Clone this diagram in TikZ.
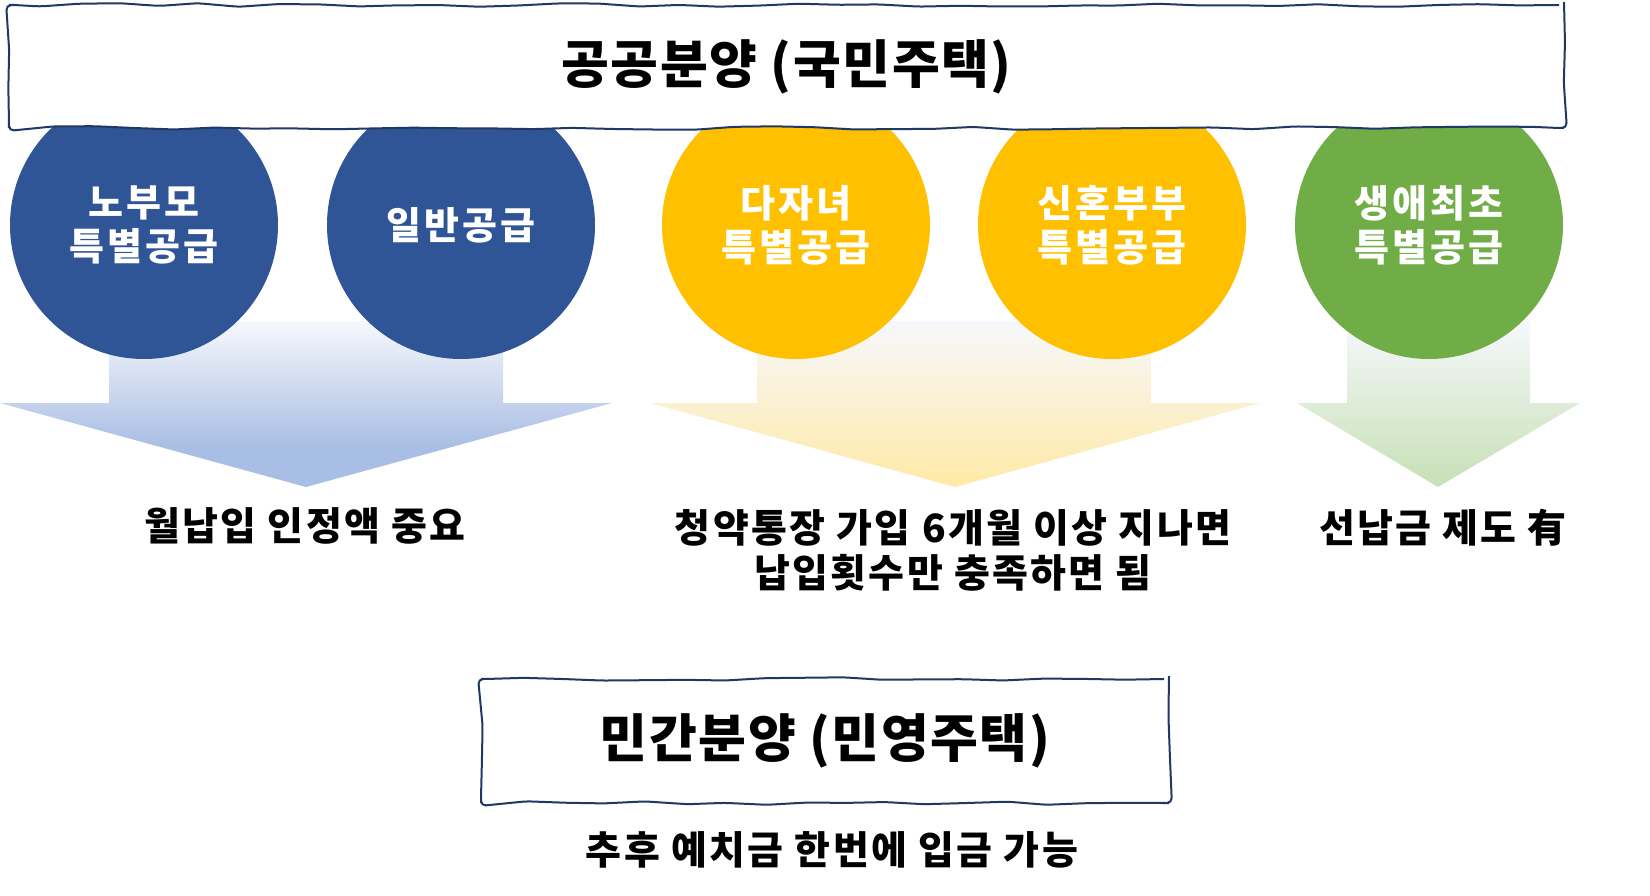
\documentclass[tikz,border=0pt]{standalone}
\usepackage{fontspec}
\setmainfont{Noto Sans CJK KR}
\usetikzlibrary{decorations.pathmorphing}
\definecolor{cblue}{RGB}{47,85,151}
\definecolor{cyellow}{RGB}{255,192,0}
\definecolor{cgreen}{RGB}{112,173,71}
\definecolor{navy}{RGB}{31,56,100}
\definecolor{gtop}{RGB}{246,248,252}
\definecolor{bfull}{RGB}{169,190,228}
\definecolor{yfull}{RGB}{255,234,170}
\definecolor{gfull}{RGB}{200,225,184}
\pgfdeclareverticalshading{bluesh}{100bp}{color(0bp)=(bfull); color(37bp)=(bfull); color(75bp)=(gtop); color(100bp)=(gtop)}
\pgfdeclareverticalshading{yelsh}{100bp}{color(0bp)=(yfull); color(27bp)=(yfull); color(75bp)=(gtop); color(100bp)=(gtop)}
\pgfdeclareverticalshading{grnsh}{100bp}{color(0bp)=(gfull); color(27bp)=(gfull); color(75bp)=(gtop); color(100bp)=(gtop)}
\tikzset{
  circ/.style={circle, minimum size=268pt, inner sep=0pt, text=white, align=center,
    font=\fontsize{38}{44}\selectfont\bfseries\addfontfeatures{LetterSpace=8}},
  wavybox/.style={draw=navy, line width=2pt, fill=white, decorate,
    decoration={random steps, segment length=40pt, amplitude=1.8pt}, rounded corners=5pt,
    inner sep=0pt, font=\fontsize{52}{58}\selectfont\bfseries\addfontfeatures{LetterSpace=3}},
  desc/.style={align=center, inner sep=0pt, font=\fontsize{39}{45}\selectfont\bfseries\addfontfeatures{LetterSpace=6}}
}
\pgfmathsetseed{7}
\begin{document}
\begin{tikzpicture}[x=1pt,y=-1pt]
\useasboundingbox[fill=white] (0,0) rectangle (1650,896);
% block arrows
\path[shading=bluesh] (109,321) -- (503,321) -- (503,403) -- (612,403) -- (306,487) -- (0,403) -- (109,403) -- cycle;
\path[shading=yelsh] (757,321) -- (1151,321) -- (1151,403) -- (1260,403) -- (955,487) -- (650,403) -- (757,403) -- cycle;
\path[shading=grnsh] (1347,321) -- (1530,321) -- (1530,403) -- (1580,403) -- (1438,487) -- (1297,403) -- (1347,403) -- cycle;
% circles
\node[circ, fill=cblue] (c1) at (144,225) {노부모\\특별공급};
\node[circ, fill=cblue] (c2) at (461,225) {일반공급};
\node[circ, fill=cyellow] (c3) at (796,225) {다자녀\\특별공급};
\node[circ, fill=cyellow] (c4) at (1112,225) {신혼부부\\특별공급};
\node[circ, fill=cgreen] (c5) at (1429,225) {생애최초\\특별공급};
% boxes
\node[wavybox, minimum width=1555pt, minimum height=123pt] (top) at (786.5,66.5) {공공분양 (국민주택)};
\node[wavybox, minimum width=688pt, minimum height=124pt] (bot) at (825,741) {민간분양 (민영주택)};
% texts
\node[desc] (t1) at (305,526) {월납입 인정액 중요};
\node[desc] (t2) at (953,550) {청약통장 가입 6개월 이상 지나면\\납입횟수만 충족하면 됨};
\node[desc] (t3) at (1443,528) {선납금 제도 有};
\node[desc] (t4) at (832,850) {추후 예치금 한번에 입금 가능};
\end{tikzpicture}
\end{document}
